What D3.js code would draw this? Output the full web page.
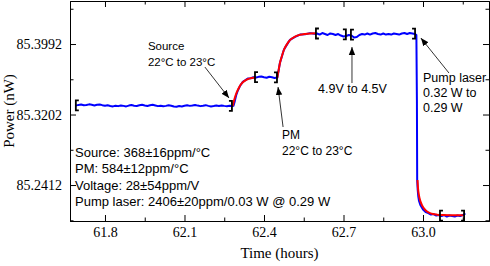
<!DOCTYPE html>
<html>
<head>
<meta charset="utf-8">
<script src="https://cdn.jsdelivr.net/npm/d3@7"></script>
<style>
body { margin: 0; background: #fff; }
.tick text { font-family: "Liberation Serif", "Times New Roman", serif; font-size: 14px; fill: #000; }
.note { font-family: "Liberation Sans", Arial, sans-serif; font-size: 12px; fill: #000; }
</style>
</head>
<body>
<div id="chart"></div>
<script>

// measured power (blue), time in hours
var measTime = [
  61.69, 61.70, 61.71, 61.72, 61.73, 61.74, 61.75, 61.76, 61.77, 61.78,
  61.79, 61.80, 61.81, 61.82, 61.83, 61.84, 61.85, 61.86, 61.87, 61.88,
  61.89, 61.90, 61.91, 61.92, 61.93, 61.94, 61.95, 61.96, 61.97, 61.98,
  61.99, 62.00, 62.01, 62.02, 62.03, 62.04, 62.05, 62.06, 62.07, 62.08,
  62.09, 62.10, 62.11, 62.12, 62.13, 62.14, 62.15, 62.16, 62.17, 62.18,
  62.19, 62.20, 62.21, 62.22, 62.23, 62.24, 62.25, 62.26, 62.27, 62.28,
  62.285, 62.29, 62.295, 62.30, 62.31, 62.32, 62.33, 62.34, 62.35, 62.36,
  62.37, 62.38, 62.39, 62.40, 62.41, 62.42, 62.43, 62.44, 62.45,
  62.455, 62.46, 62.468, 62.475, 62.487, 62.498, 62.517, 62.536, 62.555, 62.574, 62.59,
  62.60, 62.61, 62.62, 62.63, 62.64, 62.65, 62.66, 62.67, 62.68, 62.69,
  62.70, 62.71, 62.72, 62.73, 62.74, 62.75, 62.76, 62.77, 62.78, 62.79,
  62.80, 62.81, 62.82, 62.83, 62.84, 62.85, 62.86, 62.87, 62.88, 62.89,
  62.90, 62.91, 62.92, 62.93, 62.94, 62.95, 62.96, 62.97,
  62.975, 62.977, 62.978, 62.980, 62.982, 62.985, 62.99,
  63.00, 63.01, 63.02, 63.03, 63.04, 63.05, 63.06, 63.07, 63.08, 63.09,
  63.10, 63.11, 63.12, 63.13, 63.14, 63.15, 63.16
];
var measPower = [
  85.3302, 85.3310, 85.3314, 85.3306, 85.3309, 85.3316, 85.3311, 85.3304, 85.3312, 85.3315,
  85.3307, 85.3300, 85.3306, 85.3298, 85.3293, 85.3301, 85.3296, 85.3304, 85.3299, 85.3293,
  85.3302, 85.3308, 85.3301, 85.3297, 85.3305, 85.3311, 85.3303, 85.3298, 85.3306, 85.3312,
  85.3304, 85.3296, 85.3301, 85.3294, 85.3299, 85.3306, 85.3300, 85.3292, 85.3289, 85.3297,
  85.3293, 85.3300, 85.3306, 85.3299, 85.3303, 85.3309, 85.3302, 85.3296, 85.3301, 85.3307,
  85.3299, 85.3293, 85.3297, 85.3302, 85.3298, 85.3304, 85.3299, 85.3295, 85.3301, 85.3297,
  85.3300, 85.3355, 85.3418, 85.3462, 85.3525, 85.3568, 85.3587, 85.3607, 85.3609, 85.3619,
  85.3617, 85.3624, 85.3628, 85.3619, 85.3614, 85.3625, 85.3619, 85.3612, 85.3616,
  85.3693, 85.3780, 85.3858, 85.3928, 85.3988, 85.4038, 85.4072, 85.4098, 85.4102, 85.4114, 85.4106,
  85.4110, 85.4098, 85.4115, 85.4104, 85.4093, 85.4110, 85.4104, 85.4093, 85.4104, 85.4087,
  85.4076, 85.4082, 85.4093, 85.4087, 85.4065, 85.4070, 85.4093, 85.4104, 85.4098, 85.4110,
  85.4098, 85.4110, 85.4115, 85.4104, 85.4098, 85.4110, 85.4098, 85.4104, 85.4098, 85.4110,
  85.4104, 85.4098, 85.4110, 85.4115, 85.4104, 85.4115, 85.4110, 85.4104,
  85.4093, 85.3364, 85.2468, 85.2356, 85.2289, 85.2233, 85.2188,
  85.2138, 85.2109, 85.2098, 85.2081, 85.2087, 85.2070, 85.2076, 85.2065, 85.2076, 85.2059,
  85.2070, 85.2065, 85.2059, 85.2070, 85.2065, 85.2076, 85.2093
];

// exponential fits (red)
var fit1Time = [62.282, 62.287, 62.292, 62.297, 62.302, 62.31, 62.32, 62.33, 62.34, 62.35, 62.36, 62.37];
var fit1Power = [85.3297, 85.3359, 85.3409, 85.3449, 85.3482, 85.3527, 85.3563, 85.3585, 85.3600, 85.3609, 85.3614, 85.3617];
var fit2Time = [62.450, 62.455, 62.460, 62.468, 62.475, 62.487, 62.498, 62.517, 62.536, 62.555, 62.574, 62.596];
var fit2Power = [85.3611, 85.3696, 85.3777, 85.3861, 85.3925, 85.3991, 85.4035, 85.4075, 85.4095, 85.4105, 85.4111, 85.4113];
var fit3Time = [62.9792, 62.9811, 62.9849, 62.9887, 62.9943, 63.0000, 63.0075, 63.0151, 63.0264, 63.0377, 63.0528, 63.0755, 63.1019, 63.1509];
var fit3Power = [85.2468, 85.2378, 85.2294, 85.2244, 85.2199, 85.2165, 85.2137, 85.2115, 85.2098, 85.2087, 85.2080, 85.2076, 85.2074, 85.2073];

// averaging windows
var bracketTime = [61.69, 62.279, 62.366, 62.449, 62.596, 62.709, 62.728, 62.970, 63.064, 63.155];
var bracketPower = [85.3305, 85.3300, 85.3622, 85.3618, 85.4110, 85.4100, 85.4098, 85.4108, 85.2070, 85.2070];
var bracketSide = ["[", "]", "[", "]", "[", "]", "[", "]", "[", "]"];

var xTicks = [61.8, 62.1, 62.4, 62.7, 63.0];
var xMinor = [61.95, 62.25, 62.55, 62.85, 63.15];
var yTicks = [85.2412, 85.3202, 85.3992];
var yMinor = [85.2017, 85.2807, 85.3597, 85.4387];

var noteText = [
  ["Source", "22\u00b0C to 23\u00b0C"],
  ["PM", "22\u00b0C to 23\u00b0C"],
  ["4.9V to 4.5V"],
  ["Pump laser", "0.32 W to", "0.29 W"],
  ["Source: 368\u00b116ppm/\u00b0C", "PM: 584\u00b112ppm/\u00b0C", "Voltage: 28\u00b154ppm/V", "Pump laser: 2406\u00b120ppm/0.03 W @ 0.29 W"]
];
var noteTime = [61.962, 62.468, 62.604, 63.000, 61.687];
var notePower = [85.3925, 85.2927, 85.3443, 85.3566, 85.2726];
var noteGap = [16, 16, 16, 15, 16.3];
var noteSize = [11.5, 12, 12.5, 12.5, 13];

// arrows: tail -> tip
var arrowTail = [[62.177, 85.3734], [62.472, 85.3062], [62.732, 85.3555], [63.098, 85.3667]];
var arrowTip = [[62.268, 85.3387], [62.453, 85.3510], [62.732, 85.3958], [62.992, 85.4059]];

var margin = {top: 1, right: 1, bottom: 45, left: 70},
    width = 490 - margin.left - margin.right,
    height = 266 - margin.top - margin.bottom;

var svg = d3.select("#chart")
  .append("svg")
    .attr("width", width + margin.left + margin.right)
    .attr("height", height + margin.top + margin.bottom)
  .append("g")
    .attr("transform", "translate(" + margin.left + "," + margin.top + ")");

var x = d3.scaleLinear().domain([61.668, 63.249]).range([0, width]);
var y = d3.scaleLinear().domain([85.2009, 85.4474]).range([height, 0]);

svg.append("defs").append("marker")
    .attr("id", "head")
    .attr("viewBox", "0 0 10 10")
    .attr("refX", 10).attr("refY", 5)
    .attr("markerWidth", 8).attr("markerHeight", 8)
    .attr("markerUnits", "userSpaceOnUse")
    .attr("orient", "auto")
  .append("path")
    .attr("d", "M0,1 L10,5 L0,9 Z")
    .attr("fill", "#000");

var line = d3.line()
  .x(function(d) { return x(d[0]); })
  .y(function(d) { return y(d[1]); });

// blue measurement
svg.append("path")
  .datum(d3.zip(measTime, measPower))
  .attr("fill", "none")
  .attr("stroke", "#0000ff")
  .attr("stroke-width", 2)
  .attr("stroke-linejoin", "round")
  .attr("d", line);

// red fits
var curve = d3.line().curve(d3.curveMonotoneX)
  .x(function(d) { return x(d[0]); })
  .y(function(d) { return y(d[1]); });
[[fit1Time, fit1Power], [fit2Time, fit2Power], [fit3Time, fit3Power]].forEach(function(f) {
  svg.append("path")
    .datum(d3.zip(f[0], f[1]))
    .attr("fill", "none")
    .attr("stroke", "#ff0000")
    .attr("stroke-width", 2)
    .attr("d", curve);
});

// brackets
svg.selectAll(".bracket")
  .data(d3.range(bracketTime.length))
  .enter().append("path")
    .attr("class", "bracket")
    .attr("fill", "none")
    .attr("stroke", "#000")
    .attr("stroke-width", 1.8)
    .attr("d", function(i) {
      var cx = x(bracketTime[i]), cy = y(bracketPower[i]);
      var w = bracketSide[i] == "[" ? 3 : -3;
      var p = d3.path();
      p.moveTo(cx + w, cy - 5);
      p.lineTo(cx, cy - 5);
      p.lineTo(cx, cy + 5);
      p.lineTo(cx + w, cy + 5);
      return p.toString();
    });

// arrows
svg.selectAll(".arrow")
  .data(d3.range(arrowTail.length))
  .enter().append("line")
    .attr("class", "arrow")
    .attr("x1", function(i) { return x(arrowTail[i][0]); })
    .attr("y1", function(i) { return y(arrowTail[i][1]); })
    .attr("x2", function(i) { return x(arrowTip[i][0]); })
    .attr("y2", function(i) { return y(arrowTip[i][1]); })
    .attr("stroke", "#000")
    .attr("stroke-width", 0.8)
    .attr("marker-end", "url(#head)");

// notes
noteText.forEach(function(lines, i) {
  var t = svg.append("text")
    .attr("class", "note")
    .style("font-size", noteSize[i] + "px")
    .attr("x", x(noteTime[i]))
    .attr("y", y(notePower[i]));
  lines.forEach(function(s, j) {
    t.append("tspan")
      .attr("x", x(noteTime[i]))
      .attr("dy", j == 0 ? 0 : noteGap[i])
      .text(s);
  });
});

// axes, ticks inward on all four sides
function frame(axis, minor, transform) {
  svg.append("g").attr("transform", transform)
    .call(axis.tickValues(minor).tickSize(-3.5).tickSizeOuter(0).tickFormat(""));
  return svg.append("g").attr("transform", transform);
}

frame(d3.axisBottom(x), xMinor, "translate(0," + height + ")")
  .call(d3.axisBottom(x).tickValues(xTicks).tickSize(-6).tickSizeOuter(0).tickPadding(6).tickFormat(d3.format(".1f")));
frame(d3.axisTop(x), xMinor, "translate(0,0)")
  .call(d3.axisTop(x).tickValues(xTicks).tickSize(-6).tickSizeOuter(0).tickFormat(""));
frame(d3.axisLeft(y), yMinor, "translate(0,0)")
  .call(d3.axisLeft(y).tickValues(yTicks).tickSize(-6).tickSizeOuter(0).tickPadding(8).tickFormat(d3.format(".4f")));
frame(d3.axisRight(y), yMinor, "translate(" + width + ",0)")
  .call(d3.axisRight(y).tickValues(yTicks).tickSize(-6).tickSizeOuter(0).tickFormat(""));

svg.selectAll(".domain, .tick line").attr("stroke", "#000").attr("stroke-width", 1);

svg.append("text")
  .attr("x", width / 2)
  .attr("y", height + 37)
  .attr("text-anchor", "middle")
  .style("font-family", "'Liberation Serif', 'Times New Roman', serif")
  .style("font-size", "15px")
  .text("Time (hours)");

svg.append("text")
  .attr("transform", "translate(" + (14 - margin.left) + "," + (height / 2) + ") rotate(-90)")
  .attr("text-anchor", "middle")
  .style("font-family", "'Liberation Serif', 'Times New Roman', serif")
  .style("font-size", "15px")
  .text("Power (nW)");

</script>
</body>
</html>
